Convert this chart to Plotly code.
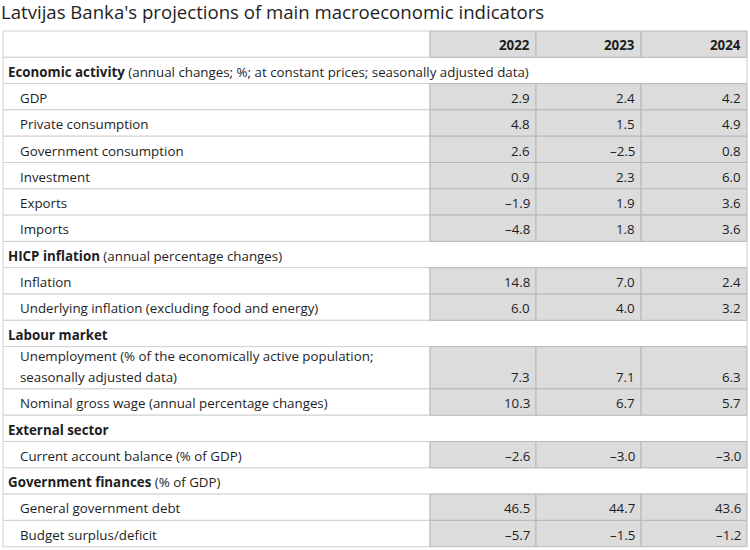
import plotly.graph_objects as go

# ---------------- data ----------------
title_text = "Latvijas Banka's projections of main macroeconomic indicators"
years = ["2022", "2023", "2024"]

section_titles = ["Economic activity", "HICP inflation", "Labour market",
                  "External sector", "Government finances"]
section_notes = [" (annual changes; %; at constant prices; seasonally adjusted data)",
                 " (annual percentage changes)", "", "", " (% of GDP)"]
section_sizes = [6, 2, 2, 1, 2]

indicator_labels = [
    "GDP", "Private consumption", "Government consumption", "Investment",
    "Exports", "Imports",
    "Inflation", "Underlying inflation (excluding food and energy)",
    "Unemployment (% of the economically active population;<br>seasonally adjusted data)",
    "Nominal gross wage (annual percentage changes)",
    "Current account balance (% of GDP)",
    "General government debt", "Budget surplus/deficit",
]
values_2022 = [2.9, 4.8, 2.6, 0.9, -1.9, -4.8, 14.8, 6.0, 7.3, 10.3, -2.6, 46.5, -5.7]
values_2023 = [2.4, 1.5, -2.5, 2.3, 1.9, 1.8, 7.0, 4.0, 7.1, 6.7, -3.0, 44.7, -1.5]
values_2024 = [4.2, 4.9, 0.8, 6.0, 3.6, 3.6, 2.4, 3.2, 6.3, 5.7, -3.0, 43.6, -1.2]
series = [values_2022, values_2023, values_2024]

# ---------------- layout constants ----------------
W, H = 750, 550
col_edges = [3, 430, 536, 641, 747]
top = 31
row_h = 26.3
row_h2 = 42.3
line_gap = 20.5
text_dy = 1.2
grey = "#dcdcdd"
line_white = "#d0d0d0"
line_grey = "#b8b8b8"
txt = "#1e1e1e"
font = "Open Sans"
fs = 13.33


def fmt(v):
    s = f"{abs(v):.1f}"
    return ("\u2013" + s) if v < 0 else s


shapes = []
annotations = []


def rect(x0, x1, y0, y1, fill, line):
    shapes.append(dict(type="rect", xref="x", yref="y", x0=x0, x1=x1, y0=y0, y1=y1,
                       fillcolor=fill, line=dict(color=line, width=1), layer="above"))


def text(x, y, s, anchor, bold=False):
    annotations.append(dict(xref="x", yref="y", x=x, y=y + text_dy,
                            text=(f"<b>{s}</b>" if bold else s),
                            showarrow=False, xanchor=anchor, yanchor="middle",
                            font=dict(family=font, size=fs, color=txt), align="left"))


y = top
# header row
rect(col_edges[0], col_edges[1], y, y + row_h, "white", line_white)
grey_cells = []
for j, yr in enumerate(years):
    grey_cells.append((col_edges[j + 1], col_edges[j + 2], y, y + row_h))
    text(col_edges[j + 2] - 4, y + row_h / 2, yr, "right", bold=True)
y += row_h

idx = 0
for s, title in enumerate(section_titles):
    rect(col_edges[0], col_edges[-1], y, y + row_h, "white", line_white)
    note = section_notes[s]
    text(col_edges[0] + 3, y + row_h / 2, f"<b>{title}</b>{note}", "left")
    y += row_h
    for k in range(section_sizes[s]):
        lab = indicator_labels[idx]
        parts = lab.split("<br>")
        h = row_h if len(parts) == 1 else row_h2
        rect(col_edges[0], col_edges[1], y, y + h, "white", line_white)
        last_y = y + h - row_h / 2
        for p, part in enumerate(parts):
            text(col_edges[0] + 15, last_y - (len(parts) - 1 - p) * line_gap, part, "left")
        for j in range(3):
            grey_cells.append((col_edges[j + 1], col_edges[j + 2], y, y + h))
            text(col_edges[j + 2] - 4, last_y, fmt(series[j][idx]), "right")
        y += h
        idx += 1

for (x0, x1, y0, y1) in grey_cells:
    rect(x0, x1, y0, y1, grey, line_grey)

fig = go.Figure()
fig.update_layout(
    width=W, height=H,
    margin=dict(l=0, r=0, t=0, b=0),
    paper_bgcolor="white", plot_bgcolor="white",
    xaxis=dict(range=[0, W], visible=False, fixedrange=True),
    yaxis=dict(range=[H, 0], visible=False, fixedrange=True),
    shapes=shapes, annotations=annotations,
    showlegend=False,
    title=dict(text=title_text, x=0, xref="paper", xanchor="left",
               y=1 - 12 / H, yref="paper", yanchor="middle",
               pad=dict(l=1, t=0, b=0, r=0),
               font=dict(family=font, size=18.6, color=txt)),
)
fig.write_html("out.html", config={"displayModeBar": False},
               post_script="document.body.style.margin='0px';")
